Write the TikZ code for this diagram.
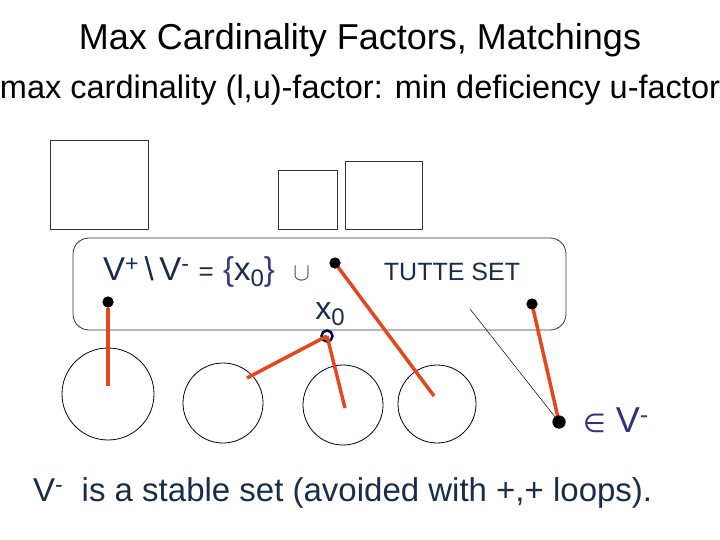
\documentclass[tikz,border=0pt]{standalone}
\usepackage{fontspec}
\setmainfont{Liberation Sans}
\newfontfamily\djv{DejaVu Sans}
\begin{document}
\begin{tikzpicture}[x=1pt,y=-1pt,
  box/.style={draw=black!80,line width=0.8pt},
  ring/.style={draw=black!85!blue,line width=0.8pt},
  redl/.style={draw={rgb,255:red,230;green,70;blue,30},line width=3.5pt},
  dot/.style={circle,fill=black,inner sep=0pt,minimum size=11pt},
  txt/.style={text={rgb,255:red,25;green,45;blue,75},inner sep=0pt}]
\useasboundingbox (0,0) rectangle (720,540);
\node[inner sep=0pt] (title) at (360,40) {\fontsize{36}{40}\selectfont Max Cardinality Factors, Matchings};
\node[inner sep=0pt] (sub) at (360,90) {\fontsize{32.5}{38}\selectfont max cardinality (l,u)-factor: min deficiency u-factor};
\draw[box] (50,140) rectangle (148,229);
\draw[box] (278,170) rectangle (337,229);
\draw[box] (345,161) rectangle (422,229);
\draw[box,rounded corners=16pt] (73,238) rectangle (566,330);
\node[txt,anchor=west] (vt) at (103,272) {\fontsize{33}{38}\selectfont V\textsuperscript{+}\,\textbackslash\,V\textsuperscript{-} {\fontsize{26}{30}\selectfont =} \textcolor[rgb]{0.25,0.22,0.5}{\{}x\raisebox{-6pt}{\fontsize{24}{28}\selectfont 0}\textcolor[rgb]{0.25,0.22,0.5}{\}}\ \ \textcolor[rgb]{0.25,0.22,0.5}{\fontsize{38}{40}\selectfont$\cup$}};
\node[txt] (tutte) at (452,272) {\fontsize{25}{30}\selectfont TUTTE SET};
\node[txt] (x0l) at (330,314) {\fontsize{32}{36}\selectfont x\raisebox{-6pt}{\fontsize{24}{28}\selectfont 0}};
\draw[ring] (108,394) circle (46);
\draw[ring] (223,403) circle (40);
\draw[ring] (343,405) circle (40);
\draw[ring] (437,404) circle (39);
\coordinate (c1) at (108,386);
\coordinate (c2) at (247,378);
\coordinate (c3) at (345,408);
\coordinate (c4) at (434,396);
\coordinate (t0) at (470,309);
\node[dot] (a) at (335,263) {};
\node[dot] (b) at (108,302) {};
\node[dot] (c) at (532,304) {};
\node[dot,minimum size=13pt] (d) at (559,422) {};
\node[circle,draw=black!70!blue,line width=2.5pt,inner sep=0pt,minimum size=11pt] (x0) at (327,336) {};
\draw[redl] (b) -- (c1);
\draw[redl] (x0.center) -- (c2);
\draw[redl] (x0.center) -- (c3);
\draw[redl] (a.center) -- (c4);
\draw[redl] (c.center) -- (d.center);
\draw[line width=0.5pt] (t0) -- (d.center);
\node[dot] at (a) {};\node[dot] at (b) {};\node[dot] at (c) {};\node[dot,minimum size=13pt] at (d) {};
\node[txt,anchor=west,text={rgb,255:red,50;green,50;blue,120}] (inv) at (583,420) {\fontsize{36}{40}\selectfont{\djv\fontsize{26}{30}\selectfont ∈} V\textsuperscript{-}};
\node[txt,anchor=west] (bot) at (33,493) {\fontsize{33}{38}\selectfont V\textsuperscript{-}\ \ is a stable set (avoided with +,+ loops).};
\end{tikzpicture}
\end{document}
